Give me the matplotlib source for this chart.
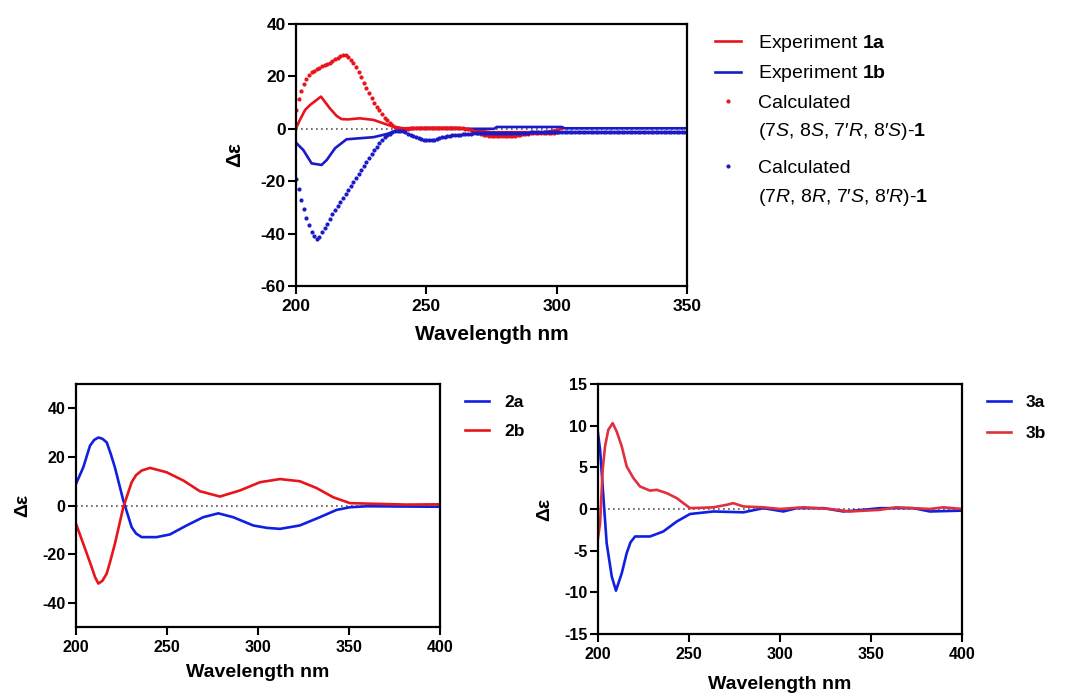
import numpy as np
import matplotlib
matplotlib.use('Agg')
import matplotlib.pyplot as plt
from matplotlib.lines import Line2D

plt.rcParams['font.family'] = ['Liberation Sans', 'DejaVu Sans']
plt.rcParams['mathtext.fontset'] = 'custom'
plt.rcParams['mathtext.rm'] = 'Liberation Sans'
plt.rcParams['mathtext.it'] = 'Liberation Sans:italic'
plt.rcParams['mathtext.bf'] = 'Liberation Sans:bold'
plt.rcParams['axes.unicode_minus'] = False

RED = '#e8141c'
BLUE = '#1a1ac8'
RED3 = '#e0303c'
BLUE2 = '#1020e0'

# ---- compound 1 : experiment ----
wl_1a = [200, 201.5, 203.5, 205.4, 207.9, 209.6, 211.1, 213, 215.6, 217.5, 220, 224.5,
         229.7, 233.5, 237.3, 241.2, 245, 250, 262, 268, 275, 295, 300, 302]
exp_1a = [0.2, 3.4, 7.2, 9.1, 11, 12.3, 10.3, 7.8, 4.9, 3.7, 3.6, 4,
          3.4, 2.1, 0.8, 0.2, 0.3, 0.4, 0.4, -0.5, -1.3, -1.3, -0.5, 0]

wl_1b = [200, 202.8, 206, 209.8, 211.8, 215, 219.4, 229.7, 234.8, 238.6, 242.5, 246,
         276, 277, 302, 303, 350]
exp_1b = [-5.3, -8.1, -13.2, -13.8, -11.9, -7.4, -4, -3.2, -2, -0.7, -0.2, 0,
          0, 0.7, 0.7, 0.2, 0.2]

# ---- compound 1 : calculated (1 nm steps) ----
wl_calc_s = np.arange(200, 301)
calc_s = [7, 11.5, 14.5, 17, 19, 20.5, 21.5, 22.2, 22.8, 23.4,
          23.8, 24.2, 24.8, 25.3, 25.9, 26.5, 27.1, 27.7, 28.2, 28.0,
          27.3, 26.4, 25.0, 23.5, 21.5, 19.6, 17.5, 15.6, 13.6, 11.6,
          10.0, 8.4, 7.0, 5.6, 4.3, 3.2, 2.2, 1.4, 0.7, 0.2,
          0.0, -0.1, 0.0, 0.1, 0.2, 0.2, 0.3, 0.3, 0.3, 0.3,
          0.3, 0.3, 0.4, 0.4, 0.4, 0.4, 0.3, 0.3, 0.3, 0.3,
          0.3, 0.3, 0.3, 0.3, 0.2, 0.1, -0.1, -0.4, -0.8, -1.2,
          -1.6, -2.0, -2.3, -2.5, -2.7, -2.7, -2.8, -2.8, -2.8, -2.7,
          -2.7, -2.7, -2.7, -2.7, -2.6, -2.5, -2.3, -2.1, -1.9, -1.8,
          -1.7, -1.7, -1.7, -1.7, -1.7, -1.6, -1.6, -1.6, -1.5, -1.5,
          -1.4]

wl_calc_r = np.arange(200, 351)
calc_r = [-19, -23, -27, -30.5, -34, -36.8, -39.3, -41, -42, -41.2,
          -39.5, -38, -36.3, -34.5, -32.7, -31, -29.3, -27.8, -26.3, -24.8,
          -23.2, -21.7, -20.2, -18.7, -17.2, -15.7, -14.1, -12.5, -11, -9.6,
          -8.2, -6.8, -5.5, -4.4, -3.3, -2.5, -1.8, -1.3, -1.0, -0.8,
          -0.7, -0.9, -1.3, -1.8, -2.3, -2.7, -3.1, -3.5, -3.8, -4.1,
          -4.3, -4.4, -4.3, -4.1, -3.8, -3.5, -3.2, -3.0, -2.8, -2.6,
          -2.5, -2.4, -2.3, -2.2, -2.1, -2.0, -1.9, -1.8, -1.7, -1.7,
          -1.6, -1.6, -1.6, -1.6, -1.6, -1.6, -1.6, -1.6, -1.6, -1.6,
          -1.5, -1.5, -1.5, -1.5, -1.5, -1.5, -1.5, -1.5, -1.5, -1.5,
          -1.4, -1.4, -1.4, -1.4, -1.4, -1.4, -1.4, -1.4, -1.4, -1.4,
          -1.4, -1.4, -1.4, -1.4, -1.4, -1.3, -1.3, -1.3, -1.3, -1.3,
          -1.3, -1.3, -1.3, -1.3, -1.3, -1.3, -1.3, -1.3, -1.3, -1.3,
          -1.3, -1.3, -1.3, -1.3, -1.3, -1.3, -1.3, -1.3, -1.3, -1.3,
          -1.3, -1.3, -1.3, -1.3, -1.3, -1.3, -1.3, -1.3, -1.3, -1.3,
          -1.3, -1.3, -1.3, -1.3, -1.3, -1.3, -1.3, -1.3, -1.3, -1.3,
          -1.3]

# ---- compound 2 ----
wl_2a = [200, 204, 207.7, 210, 212.3, 214.5, 216.9, 219, 221.4, 226, 230.6, 233, 236.1,
         244.3, 251.6, 260.8, 269.9, 278.2, 286.4, 297.4, 305, 312.1, 323, 334, 343.2,
         350.5, 359.7, 380, 400]
cd_2a = [8.9, 15.7, 24.6, 27, 28, 27.5, 26, 21.5, 15.7, 2.1, -8.9, -11.5, -13,
         -13, -11.9, -8.2, -4.8, -3.2, -4.8, -8.2, -9.2, -9.6, -8.2, -4.8, -1.8,
         -0.7, -0.3, -0.4, -0.5]

wl_2b = [200, 204, 208.6, 210.5, 212.3, 214.5, 216.9, 219, 221.4, 226, 230.6, 233, 236.1,
         240.7, 249.8, 259, 268.1, 279.1, 290.1, 301.1, 312.1, 323, 332.2, 341.4, 350.5,
         359.7, 381.7, 400]
cd_2b = [-7.5, -15.7, -25.3, -29.5, -32.1, -31, -28, -22.5, -15.7, -0.7, 9.6, 12.5, 14.4,
         15.5, 13.7, 10.3, 5.9, 3.7, 6.2, 9.6, 10.9, 10, 7.2, 3.4, 1,
         0.8, 0.4, 0.5]

# ---- compound 3 ----
wl_3a = [200, 201.3, 203.1, 204.9, 207.7, 210, 213.2, 215.9, 218, 220.5, 228.7, 236,
         243.4, 250.7, 263.5, 280, 291, 301.9, 309.3, 323.9, 334.9, 345.8, 355, 373.3,
         382.4, 400]
cd_3a = [9.3, 7.1, 1.5, -4.1, -8.1, -9.8, -7.7, -5.3, -4.0, -3.3, -3.3, -2.7,
         -1.5, -0.6, -0.3, -0.4, 0.1, -0.3, 0.1, 0.1, -0.3, -0.1, 0.1, 0.1,
         -0.3, -0.2]

wl_3b = [200, 201.3, 202.7, 204, 205.8, 208.2, 210.4, 213.2, 215.9, 219.6, 223.2, 228.7,
         232.4, 237.9, 243.4, 247, 250.7, 263.5, 270.8, 274.4, 280, 291, 300.2, 313,
         327.5, 338.5, 355, 363.9, 382.4, 389.7, 400]
cd_3b = [-3.7, -1.7, 4.7, 7.5, 9.5, 10.3, 9.3, 7.5, 5.1, 3.7, 2.7, 2.2,
         2.3, 1.9, 1.3, 0.7, 0.1, 0.2, 0.5, 0.7, 0.3, 0.2, 0.0, 0.2,
         0.0, -0.3, -0.1, 0.2, 0.0, 0.2, 0.0]


def style_axes(ax, xlim, ylim, xticks, yticks, tick_fs, label_fs, ylab_x, xlab_y):
    ax.set_xlim(*xlim)
    ax.set_ylim(*ylim)
    ax.set_xticks(xticks)
    ax.set_yticks(yticks)
    ax.axhline(0, color='#555555', lw=1.2, ls=(0, (1, 2)), zorder=1)
    for sp in ax.spines.values():
        sp.set_linewidth(1.6)
    ax.tick_params(direction='out', length=5.5, width=1.5, labelsize=tick_fs, pad=2)
    ax.tick_params(axis='x', pad=4)
    for lab in ax.get_xticklabels() + ax.get_yticklabels():
        lab.set_fontweight('bold')
    ax.set_xlabel('Wavelength nm', fontsize=label_fs, fontweight='bold')
    ax.set_ylabel('Δε', fontsize=label_fs, fontweight='bold')
    ax.xaxis.set_label_coords(0.5, xlab_y)
    ax.xaxis.label.set_va('center')
    ax.yaxis.set_label_coords(ylab_x, 0.5)
    ax.yaxis.label.set(va='center', ha='center', rotation_mode='default')


fig = plt.figure(figsize=(10.67, 6.94), dpi=100)
blank = Line2D([], [], ls='none')

# top chart
ax1 = fig.add_axes([0.2774, 0.5879, 0.3665, 0.3775])
h1a, = ax1.plot(wl_1a, exp_1a, color=RED, lw=1.9)
h1b, = ax1.plot(wl_1b, exp_1b, color=BLUE, lw=1.9)
hcs, = ax1.plot(wl_calc_s, calc_s, ls='none', marker='o', ms=2.0, color=RED)
hcr, = ax1.plot(wl_calc_r, calc_r, ls='none', marker='o', ms=2.0, color=BLUE)
style_axes(ax1, (200, 350), (-60, 40), [200, 250, 300, 350],
           [-60, -40, -20, 0, 20, 40], 12.5, 15, -0.156, -0.187)

leg_kw = dict(loc='upper left', frameon=False, fontsize=14, handlelength=1.35,
              handletextpad=0.85, labelspacing=0.5, borderpad=0, borderaxespad=0)
leg_top = ax1.legend([h1a, h1b, hcs, blank],
                     ['Experiment $\\mathbf{1a}$', 'Experiment $\\mathbf{1b}$', 'Calculated',
                      '(7$\\mathit{S}$, 8$\\mathit{S}$, 7′$\\mathit{R}$, 8′$\\mathit{S}$)-$\\mathbf{1}$'],
                     bbox_to_anchor=(1.0716, 0.967), **leg_kw)
ax1.add_artist(leg_top)
ax1.legend([hcr, blank],
           ['Calculated',
            '(7$\\mathit{R}$, 8$\\mathit{R}$, 7′$\\mathit{S}$, 8′$\\mathit{R}$)-$\\mathbf{1}$'],
           bbox_to_anchor=(1.0716, 0.483), **leg_kw)

# bottom left
ax2 = fig.add_axes([0.0712, 0.0965, 0.3411, 0.3501])
ax2.plot(wl_2a, cd_2a, color=BLUE2, lw=1.9, label='2a')
ax2.plot(wl_2b, cd_2b, color=RED, lw=1.9, label='2b')
style_axes(ax2, (200, 400), (-50, 50), [200, 250, 300, 350, 400],
           [-40, -20, 0, 20, 40], 11.5, 14, -0.146, -0.188)
ax2.legend(loc='upper left', bbox_to_anchor=(1.0687, 0.955), frameon=False,
           prop={'size': 12.5, 'weight': 'bold'}, handlelength=1.4, handletextpad=0.85,
           labelspacing=0.8, borderpad=0, borderaxespad=0)

# bottom right
ax3 = fig.add_axes([0.5602, 0.0865, 0.3414, 0.3602])
ax3.plot(wl_3a, cd_3a, color=BLUE2, lw=1.9, label='3a')
ax3.plot(wl_3b, cd_3b, color=RED3, lw=1.9, label='3b')
style_axes(ax3, (200, 400), (-15, 15), [200, 250, 300, 350, 400],
           [-15, -10, -5, 0, 5, 10, 15], 11.5, 14, -0.145, -0.204)
ax3.legend(loc='upper left', bbox_to_anchor=(1.0687, 0.955), frameon=False,
           prop={'size': 12.5, 'weight': 'bold'}, handlelength=1.4, handletextpad=0.85,
           labelspacing=0.9, borderpad=0, borderaxespad=0)

fig.savefig('out.png', dpi=100)
